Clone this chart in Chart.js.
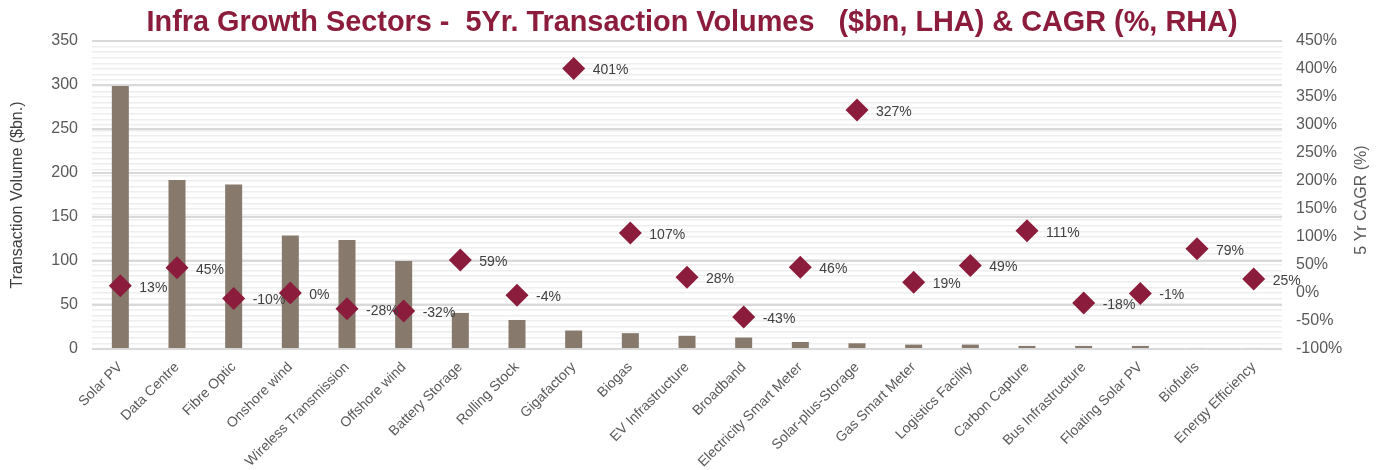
<!DOCTYPE html>
<html>
<head>
<meta charset="utf-8">
<script src="https://cdn.jsdelivr.net/npm/chart.js@4.4.1/dist/chart.umd.min.js"></script>
<style>
  html, body { margin: 0; padding: 0; background: #ffffff; }
  #wrap { width: 1386px; height: 470px; position: relative; }
</style>
</head>
<body>
<div id="wrap"><canvas id="c" width="1386" height="470"></canvas></div>
<script>
const titleText = "Infra Growth Sectors -  5Yr. Transaction Volumes   ($bn, LHA) & CAGR (%, RHA)";
const rightTitle = "5 Yr CAGR (%)";
const categories = ["Solar PV", "Data Centre", "Fibre Optic", "Onshore wind", "Wireless Transmission",
  "Offshore wind", "Battery Storage", "Rolling Stock", "Gigafactory", "Biogas", "EV Infrastructure",
  "Broadband", "Electricity Smart Meter", "Solar-plus-Storage", "Gas Smart Meter", "Logistics Facility",
  "Carbon Capture", "Bus Infrastructure", "Floating Solar PV", "Biofuels", "Energy Efficiency"];
const volumes = [299, 192, 187, 129, 124, 100, 41, 33, 21, 18, 15, 13, 8, 6.5, 5, 5, 3.5, 3.5, 3.5, 1.2, 1.2];
const cagr = [13, 45, -10, 0, -28, -32, 59, -4, 401, 107, 28, -43, 46, 327, 19, 49, 111, -18, -1, 79, 25];
const leftTicks = [0, 50, 100, 150, 200, 250, 300, 350];
const rightMin = -100, rightMax = 450;

const BAR = '#877a6d';
const RED = '#8c1c3c';
const FONT = '"Liberation Sans", Arial, sans-serif';

const titlePlugin = {
  id: 'customTitle',
  afterDraw(chart) {
    const ctx = chart.ctx;
    ctx.save();
    ctx.font = 'bold 30px ' + FONT;
    const w = ctx.measureText(titleText).width;
    const target = 1091;
    ctx.translate(692, 23);
    ctx.scale(target / w, 1);
    ctx.fillStyle = RED;
    ctx.textAlign = 'center';
    ctx.textBaseline = 'middle';
    ctx.fillText(titleText, 0, 0);
    ctx.restore();

    // right axis title, reading bottom-to-top
    ctx.save();
    ctx.font = '16px ' + FONT;
    ctx.fillStyle = '#595959';
    ctx.translate(1362, 200);
    ctx.rotate(-Math.PI / 2);
    ctx.textAlign = 'center';
    ctx.textBaseline = 'middle';
    ctx.fillText(rightTitle, 0, 0);
    ctx.restore();
  }
};

const labelPlugin = {
  id: 'pointLabels',
  afterDatasetsDraw(chart) {
    const ctx = chart.ctx;
    const meta = chart.getDatasetMeta(1);
    ctx.save();
    ctx.font = '14px ' + FONT;
    ctx.fillStyle = '#404040';
    ctx.textAlign = 'left';
    ctx.textBaseline = 'middle';
    meta.data.forEach((pt, i) => {
      ctx.fillText(cagr[i] + '%', pt.x + 19, pt.y + 2);
    });
    ctx.restore();
  }
};

new Chart(document.getElementById('c'), {
  data: {
    labels: categories,
    datasets: [
      {
        type: 'bar',
        label: 'Transaction Volume',
        data: volumes,
        backgroundColor: BAR,
        borderWidth: 0,
        yAxisID: 'y',
        barPercentage: 0.6,
        categoryPercentage: 0.5,
        order: 2
      },
      {
        type: 'line',
        label: '5 Yr CAGR',
        data: cagr,
        yAxisID: 'y1',
        showLine: false,
        pointStyle: 'rectRot',
        pointRadius: 11.5,
        pointHoverRadius: 11.5,
        pointBackgroundColor: RED,
        pointBorderWidth: 0,
        borderColor: RED,
        order: 1
      }
    ]
  },
  options: {
    responsive: false,
    animation: false,
    events: [],
    layout: { padding: { top: 41, left: 0, right: 0, bottom: 0 } },
    plugins: {
      legend: { display: false },
      title: { display: false },
      tooltip: { enabled: false }
    },
    scales: {
      x: {
        grid: { display: false },
        border: { display: false },
        ticks: {
          color: '#595959',
          font: { family: FONT, size: 14 },
          minRotation: 45, maxRotation: 45,
          autoSkip: false,
          padding: 2
        },
        afterFit(scale) { scale.height = 121; }
      },
      y1: {
        position: 'right',
        min: rightMin, max: rightMax,
        grid: {
          drawTicks: false,
          color: '#eeeeee',
          lineWidth: 1.5
        },
        border: { display: false },
        ticks: {
          stepSize: 10,
          autoSkip: false,
          padding: 14,
          color: '#595959',
          font: { family: FONT, size: 16 },
          callback: (v) => (v % 50 === 0 ? v + '%' : '')
        },
        title: { display: false },
        afterFit(scale) { scale.width = 104; }
      },
      y: {
        position: 'left',
        min: leftTicks[0], max: leftTicks[leftTicks.length - 1],
        afterBuildTicks(scale) { scale.ticks = leftTicks.map(v => ({ value: v })); },
        grid: {
          drawTicks: false,
          color: '#d9d9d9',
          lineWidth: 2
        },
        border: { display: false },
        ticks: {
          padding: 14,
          color: '#595959',
          font: { family: FONT, size: 16 }
        },
        title: {
          display: true,
          text: 'Transaction Volume ($bn.)',
          color: '#404040',
          font: { family: FONT, size: 16 },
          padding: { top: 8, bottom: 0 }
        },
        afterFit(scale) { scale.width = 92; }
      }
    }
  },
  plugins: [titlePlugin, labelPlugin]
});
</script>
</body>
</html>
